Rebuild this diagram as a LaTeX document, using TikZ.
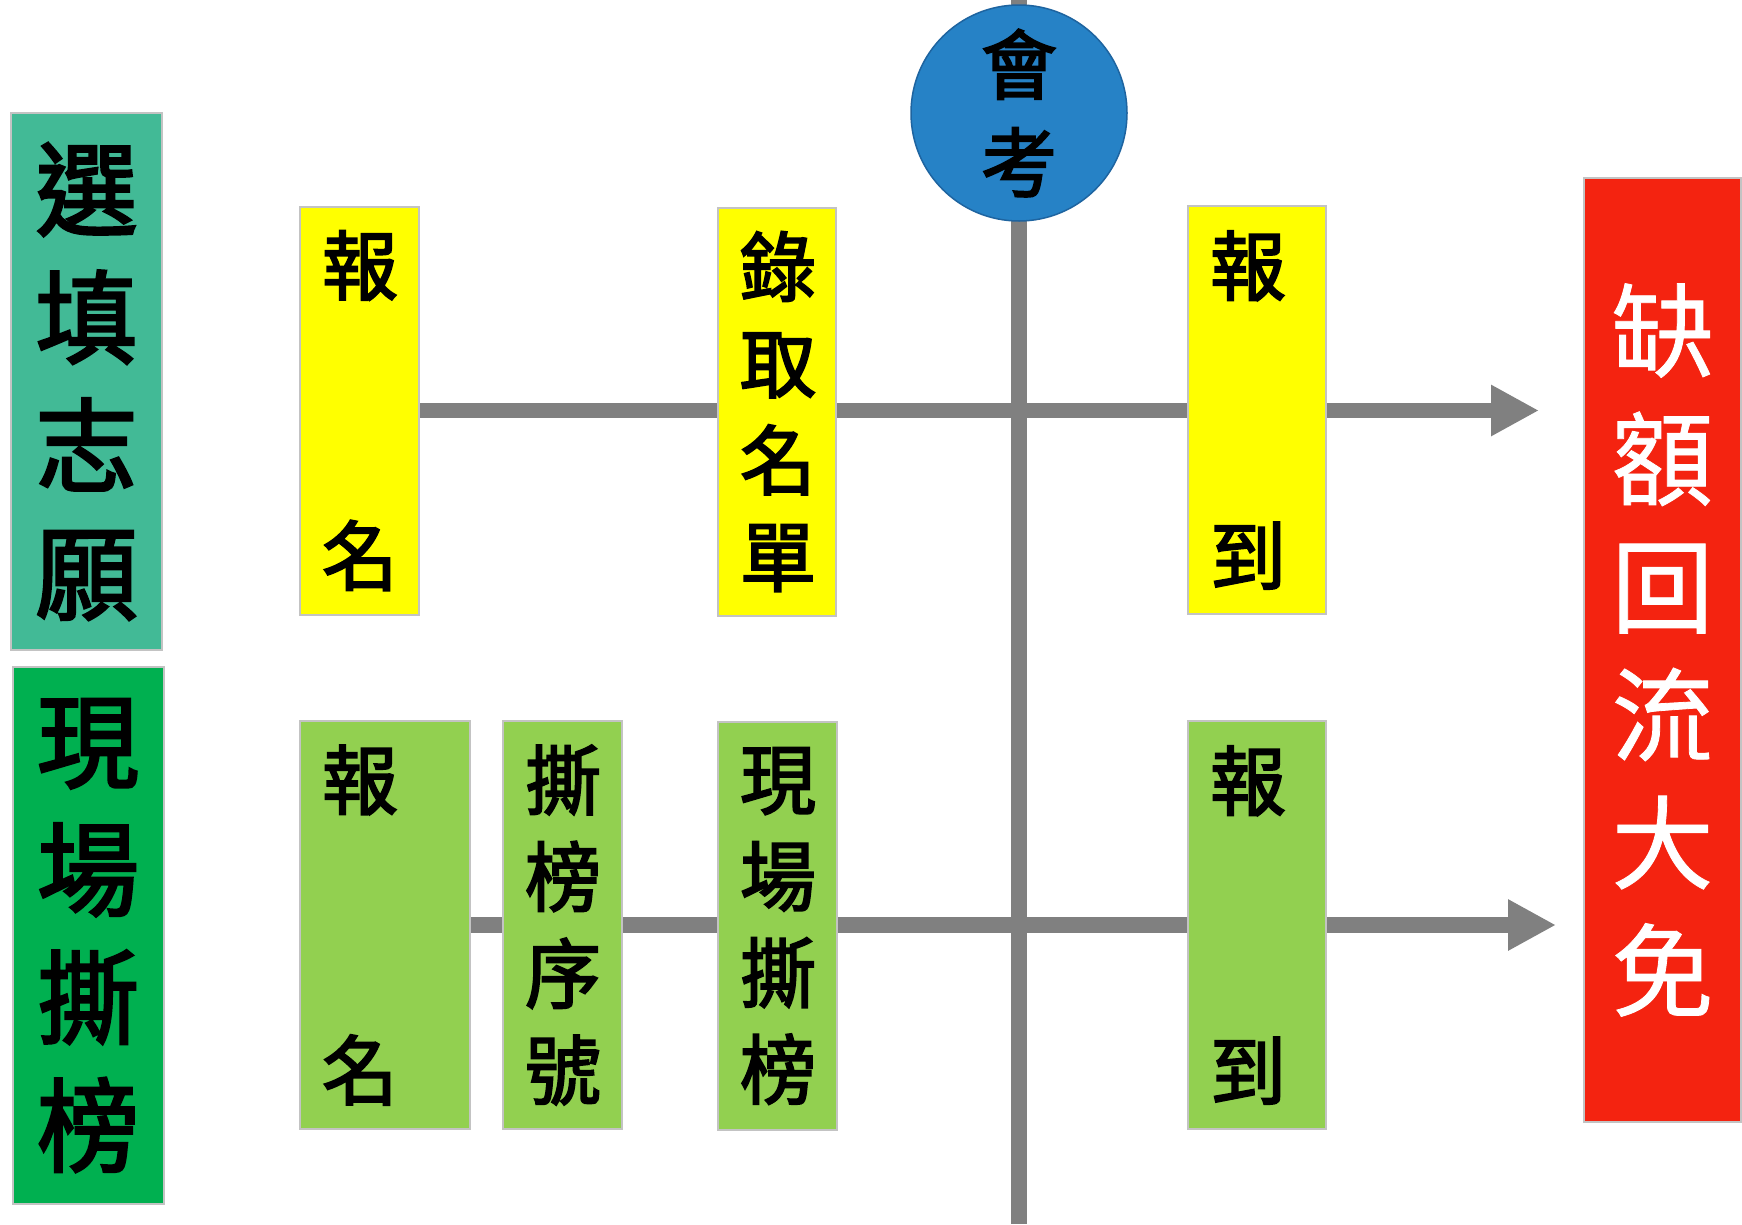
\documentclass[tikz,border=0pt]{standalone}
\usepackage{fontspec}
\newfontfamily\cjk{Noto Sans CJK TC}[FakeBold=0.8]
\newfontfamily\cjkb{Noto Sans CJK TC}[FakeBold=2.5]
\usetikzlibrary{arrows.meta,backgrounds}
\definecolor{tealbox}{RGB}{66,186,150}
\definecolor{greenbox}{RGB}{0,176,80}
\definecolor{lgreen}{RGB}{146,208,80}
\definecolor{yel}{RGB}{255,255,0}
\definecolor{bluec}{RGB}{38,130,198}
\definecolor{bluebd}{RGB}{30,100,160}
\definecolor{redbox}{RGB}{244,35,16}
\definecolor{linegray}{RGB}{128,128,128}
\definecolor{bord}{RGB}{195,195,195}
\begin{document}
\begin{tikzpicture}[x=1pt,y=-1pt,
  boxbase/.style={draw=bord, line width=2pt, inner sep=0pt},
  smallbox/.style={boxbase, minimum height=408pt, inner xsep=22pt, align=left,
    font=\cjkb\fontsize{76}{96.7}\selectfont},
  bigbox/.style={boxbase, minimum height=537pt, text width=151pt, align=center,
    font=\cjkb\fontsize{102}{128}\selectfont},
  sidebox/.style={boxbase, minimum height=944pt, text width=157pt, align=center,
    text=white, font=\cjk\fontsize{102}{128}\selectfont},
  exam/.style={circle, fill=bluec, draw=bluebd, line width=1.5pt, minimum size=216pt,
    inner sep=0pt, align=center, font=\cjkb\fontsize{76}{98}\selectfont},
  conn/.style={draw=linegray, line width=15.5pt},
  flow/.style={conn, -{Triangle[length=48pt,width=48pt]}}]
\useasboundingbox (0,0) rectangle (1742,1224);
% left category boxes
\node[bigbox, fill=tealbox] (fill) at (86.5,381.5) {選\\填\\志\\願};
\node[bigbox, fill=greenbox] (spot) at (88,935.5) {現\\場\\撕\\榜};
% upper row
\node[smallbox, fill=yel, text width=75pt] (y1) at (359.5,410.5) {報\\[193.4pt]名};
\node[smallbox, fill=yel, text width=74pt] (y2) at (777,411.5) {錄\\取\\名\\單};
\node[smallbox, fill=yel, text width=94pt] (y3) at (1257,410) {報\\[193.4pt]到};
% lower row
\node[smallbox, fill=lgreen, text width=126pt] (g1) at (385,925) {報\\[193.4pt]名};
\node[smallbox, fill=lgreen, text width=75pt] (g2) at (562.5,925) {撕\\榜\\序\\號};
\node[smallbox, fill=lgreen, text width=75pt] (g3) at (777.5,926) {現\\場\\撕\\榜};
\node[smallbox, fill=lgreen, text width=94pt] (g4) at (1257,925) {報\\[193.4pt]到};
% right box
\node[sidebox, fill=redbox] (vac) at (1662.5,650) {缺\\額\\回\\流\\大\\免};
% exam circle
\node[exam] (exam) at (1019,113) {會\\考};
% connectors
\coordinate (vtop) at (1019,0);
\coordinate (vbot) at (1019,1224);
\coordinate (t1) at (1539,410.5);
\coordinate (t2) at (1556,925);
\begin{scope}[on background layer]
\fill[white] (0,0) rectangle (1742,1224);
\draw[conn] (vtop) -- (vbot);
\draw[flow] (y1.east) -- (t1);
\draw[flow] (g1.east) -- (t2);
\end{scope}
\end{tikzpicture}
\end{document}
